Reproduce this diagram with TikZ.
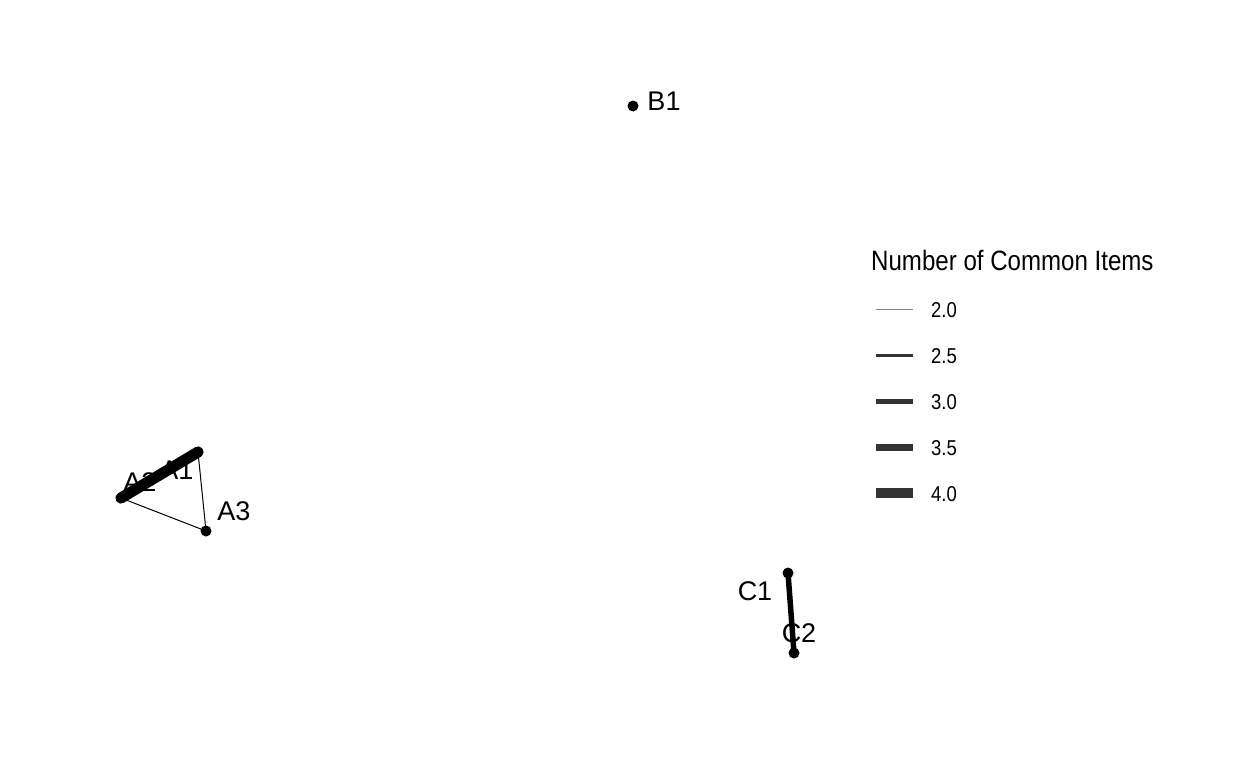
\documentclass[tikz,border=0pt]{standalone}
\usepackage{fontspec}
\setmainfont{Liberation Sans}
\newfontfamily\legfont[FakeStretch=0.86]{Liberation Sans}
\begin{document}
\begin{tikzpicture}[x=1pt,y=-1pt,
  vtx/.style={circle,fill=black,inner sep=0pt,minimum size=11pt},
  lbl/.style={font=\fontsize{27}{27}\selectfont,inner sep=0pt,text=black},
  edg/.style={draw=black,line cap=round},
  legline/.style={draw=black!80,line cap=butt},
  legtxt/.style={font=\legfont\fontsize{21.5}{21.5}\selectfont,anchor=west,inner sep=0pt},
  legtitle/.style={font=\legfont\fontsize{28}{28}\selectfont,anchor=west,inner sep=0pt}]
\useasboundingbox (0,0) rectangle (1248,768);
% vertices
\node[vtx] (A1) at (198,452) {};
\node[vtx] (A2) at (121,498) {};
\node[vtx] (A3) at (206,531) {};
\node[vtx] (B1) at (633,106) {};
\node[vtx] (C1) at (788,573) {};
\node[vtx] (C2) at (794,653) {};
% edges
\draw[edg,line width=11pt] (A1.center) -- (A2.center);
\draw[edg,line width=1pt] (A1.center) -- (A3.center);
\draw[edg,line width=1pt] (A2.center) -- (A3.center);
\draw[edg,line width=5.5pt] (C1.center) -- (C2.center);
% labels
\node[lbl] (lA1) at (177,470) {A1};
\node[lbl] (lA2) at (140,482) {A2};
\node[lbl] (lA3) at (234,511) {A3};
\node[lbl] (lB1) at (664,101) {B1};
\node[lbl] (lC1) at (755,591) {C1};
\node[lbl] (lC2) at (799,633) {C2};
% legend
\node[legtitle] (lt) at (871,260) {Number of Common Items};
\coordinate (s1) at (876,309); \coordinate (e1) at (913,309);
\coordinate (s2) at (876,355); \coordinate (e2) at (913,355);
\coordinate (s3) at (876,401); \coordinate (e3) at (913,401);
\coordinate (s4) at (876,447); \coordinate (e4) at (913,447);
\coordinate (s5) at (876,493); \coordinate (e5) at (913,493);
\draw[draw=black!50,line width=1pt] (s1) -- (e1);
\draw[legline,line width=3pt] (s2) -- (e2);
\draw[legline,line width=5pt] (s3) -- (e3);
\draw[legline,line width=7pt] (s4) -- (e4);
\draw[legline,line width=10pt] (s5) -- (e5);
\node[legtxt] (t1) at (931,310) {2.0};
\node[legtxt] (t2) at (931,356) {2.5};
\node[legtxt] (t3) at (931,402) {3.0};
\node[legtxt] (t4) at (931,448) {3.5};
\node[legtxt] (t5) at (931,494) {4.0};
\end{tikzpicture}
\end{document}
